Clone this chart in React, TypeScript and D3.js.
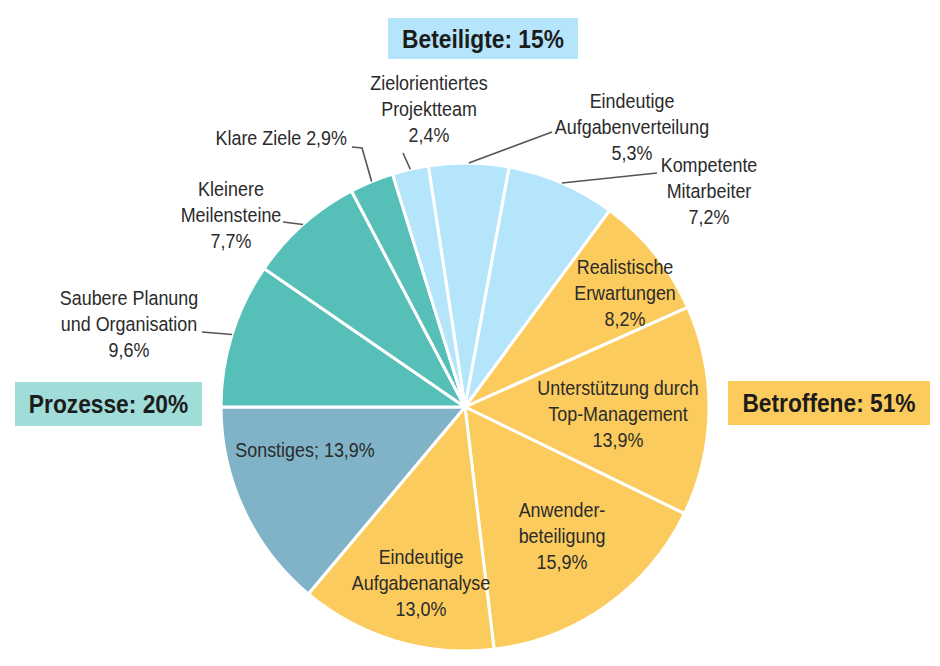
import React from "react";
import * as d3 from "d3";

const categories = [
  "Eindeutige Aufgabenverteilung",
  "Kompetente Mitarbeiter",
  "Realistische Erwartungen",
  "Unterstützung durch Top-Management",
  "Anwenderbeteiligung",
  "Eindeutige Aufgabenanalyse",
  "Sonstiges",
  "Saubere Planung und Organisation",
  "Kleinere Meilensteine",
  "Klare Ziele",
  "Zielorientiertes Projektteam",
];
const values = [5.3, 7.2, 8.2, 13.9, 15.9, 13.0, 13.9, 9.6, 7.7, 2.9, 2.4];
const groups = ["Beteiligte", "Beteiligte", "Betroffene", "Betroffene", "Betroffene", "Betroffene", "Sonstiges", "Prozesse", "Prozesse", "Prozesse", "Beteiligte"];
const labelLines = [
  ["Eindeutige", "Aufgabenverteilung", "5,3%"],
  ["Kompetente", "Mitarbeiter", "7,2%"],
  ["Realistische", "Erwartungen", "8,2%"],
  ["Unterstützung durch", "Top-Management", "13,9%"],
  ["Anwender-", "beteiligung", "15,9%"],
  ["Eindeutige", "Aufgabenanalyse", "13,0%"],
  ["Sonstiges; 13,9%"],
  ["Saubere Planung", "und Organisation", "9,6%"],
  ["Kleinere", "Meilensteine", "7,7%"],
  ["Klare Ziele 2,9%"],
  ["Zielorientiertes", "Projektteam", "2,4%"],
];
const groupBoxes = [
  { label: "Beteiligte: 15%", group: "Beteiligte" },
  { label: "Prozesse: 20%", group: "Prozesse" },
  { label: "Betroffene: 51%", group: "Betroffene" },
];

const colors: Record<string, string> = {
  Beteiligte: "#B5E5FA",
  Betroffene: "#FCCB5D",
  Sonstiges: "#80B3C8",
  Prozesse: "#55BFB8",
};
const boxColors: Record<string, string> = {
  Beteiligte: "#B5E5FA",
  Betroffene: "#FCCB5D",
  Prozesse: "#A0DCD8",
};

// layout (positions of labels)
const labelPos: { x: number; y: number; anchor?: string; leader?: [number, number][] }[] = [
  { x: 632, y: 101, leader: [[552, 132]] },
  { x: 709, y: 165, leader: [[657, 173]] },
  { x: 625, y: 267 },
  { x: 618, y: 388 },
  { x: 562, y: 510 },
  { x: 421, y: 557 },
  { x: 305, y: 450 },
  { x: 129, y: 298, leader: [[202, 332]] },
  { x: 231, y: 189, leader: [[283, 222]] },
  { x: 347, y: 138, anchor: "end", leader: [[362, 148], [352, 147]] },
  { x: 429, y: 83, leader: [[403, 153]] },
];
const boxPos: Record<string, { x: number; y: number; w: number; h: number }> = {
  Beteiligte: { x: 388, y: 18, w: 190, h: 41 },
  Prozesse: { x: 15, y: 382, w: 187, h: 44 },
  Betroffene: { x: 728, y: 381, w: 202, h: 44 },
};

const W = 940;
const H = 666;
const cx = 465;
const cy = 407;
const R = 244;
const lineH = 26;
const font = "'Liberation Sans', Arial, Helvetica, sans-serif";

export default function App() {
  const total = d3.sum(values);
  const start = -(values[values.length - 1] / total) * 2 * Math.PI;
  const pie = d3
    .pie<number>()
    .sort(null)
    .value((d) => d)
    .startAngle(start)
    .endAngle(start + 2 * Math.PI);
  const arcs = pie(values);
  const arc = d3.arc<d3.PieArcDatum<number>>().innerRadius(0).outerRadius(R);
  const line = d3.line();

  return (
    <svg width={W} height={H} style={{ position: "absolute", left: 0, top: 0, background: "#fff" }} fontFamily={font}>
      <g transform={`translate(${cx},${cy})`}>
        {arcs.map((a, i) => (
          <path key={i} d={arc(a) || ""} fill={colors[groups[i]]} stroke="#fff" strokeWidth={3} strokeLinejoin="round" />
        ))}
      </g>
      {arcs.map((a, i) => {
        const p = labelPos[i];
        if (!p.leader) return null;
        const mid = (a.startAngle + a.endAngle) / 2;
        const sx = cx + R * Math.sin(mid);
        const sy = cy - R * Math.cos(mid);
        const pts: [number, number][] = [[sx, sy], ...p.leader];
        return <path key={"l" + i} d={line(pts) || ""} fill="none" stroke="#555" strokeWidth={1.6} />;
      })}
      {labelLines.map((lines, i) => {
        const p = labelPos[i];
        return (
          <text
            key={"t" + i}
            transform={`translate(${p.x},${p.y}) scale(0.92,1)`}
            fontSize={19.5}
            fill="#2b2b2b"
            textAnchor={p.anchor || "middle"}
          >
            {lines.map((ln, j) => (
              <tspan key={j} x={0} y={j * lineH} dy="0.35em">
                {ln}
              </tspan>
            ))}
          </text>
        );
      })}
      {groupBoxes.map((b) => {
        const p = boxPos[b.group];
        return (
          <g key={b.group}>
            <rect x={p.x} y={p.y} width={p.w} height={p.h} fill={boxColors[b.group]} />
            <text
              transform={`translate(${p.x + p.w / 2},${p.y + p.h / 2}) scale(0.91,1)`}
              dy="0.36em"
              textAnchor="middle"
              fontSize={25}
              fontWeight="bold"
              fill="#1c1c1c"
            >
              {b.label}
            </text>
          </g>
        );
      })}
    </svg>
  );
}
